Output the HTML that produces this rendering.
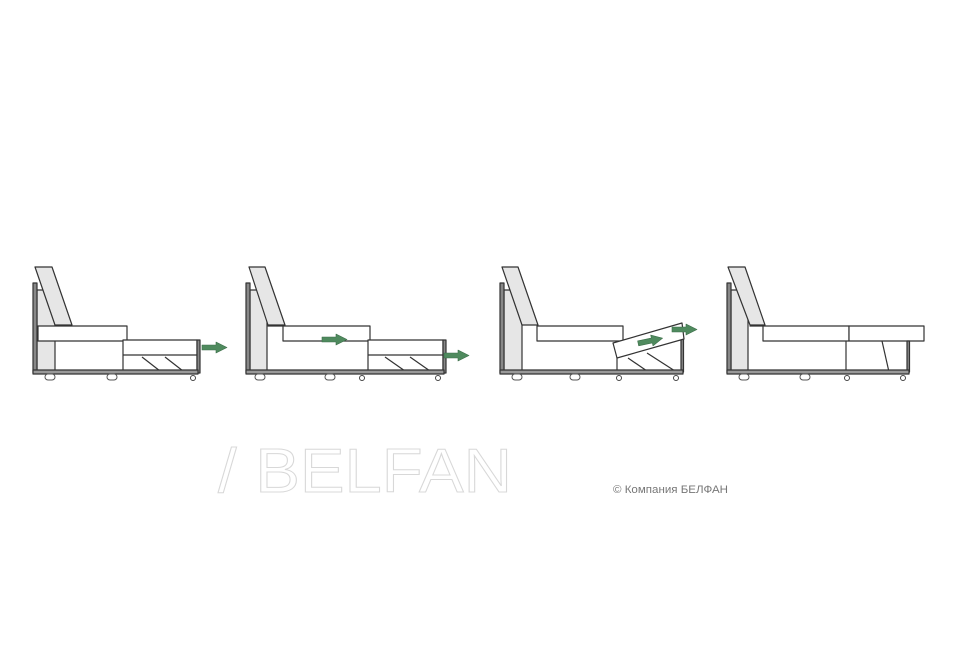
<!DOCTYPE html>
<html><head><meta charset="utf-8"><style>
html,body{margin:0;padding:0;background:#fff;}
svg{display:block;}
</style></head><body>
<svg width="961" height="648" viewBox="0 0 961 648" xmlns="http://www.w3.org/2000/svg">
<defs>
<g id="arr"><polygon points="0,3 14,3 14,0 25,5.5 14,11 14,8 0,8" fill="#4f8a5e" stroke="#3d6f4a" stroke-width="0.6"/></g>
<g id="foot"><rect x="-5" y="0" width="10" height="6" rx="3" fill="#fff" stroke="#555" stroke-width="1"/></g>
<g id="wheel"><circle cx="0" cy="0" r="2.5" fill="#fff" stroke="#444" stroke-width="1"/></g>
</defs>
<g stroke="#333" stroke-width="1.2" fill="#fff" stroke-linejoin="round">

<!-- Sofa 1 -->
<rect x="37" y="290" width="18" height="82" fill="#e6e6e6"/>
<rect x="33" y="283" width="4" height="90" fill="#888"/>
<polygon points="35,267 52,267 72,325 55,325" fill="#e6e6e6"/>
<rect x="38" y="326" width="89" height="15"/>
<rect x="123" y="340" width="74" height="32"/>
<line x1="123" y1="355" x2="197" y2="355"/>
<line x1="142" y1="357" x2="160" y2="371"/>
<line x1="165" y1="357" x2="183" y2="371"/>
<rect x="197" y="340" width="3" height="33" fill="#888"/>
<rect x="33" y="370" width="165" height="4" fill="#999"/>
<use href="#foot" x="50" y="374"/><use href="#foot" x="112" y="374"/>
<use href="#wheel" x="193" y="378"/>
<use href="#arr" x="202" y="342"/>

<!-- Sofa 2 -->
<rect x="250" y="290" width="17" height="82" fill="#e6e6e6"/>
<rect x="246" y="283" width="4" height="90" fill="#888"/>
<polygon points="249,267 265,267 285,325 268,325" fill="#e6e6e6"/>
<polygon points="268,326 370,326 370,341 283,341 283,326"/>
<rect x="368" y="340" width="75" height="32"/>
<line x1="368" y1="355" x2="443" y2="355"/>
<line x1="385" y1="357" x2="405" y2="371"/>
<line x1="410" y1="357" x2="430" y2="371"/>
<rect x="443" y="340" width="3" height="33" fill="#888"/>
<rect x="246" y="370" width="198" height="4" fill="#999"/>
<use href="#foot" x="260" y="374"/><use href="#foot" x="330" y="374"/>
<use href="#wheel" x="362" y="378"/><use href="#wheel" x="438" y="378"/>
<use href="#arr" x="322" y="334"/>
<use href="#arr" x="444" y="350"/>

<!-- Sofa 3 -->
<rect x="504" y="290" width="18" height="82" fill="#e6e6e6"/>
<rect x="500" y="283" width="4" height="90" fill="#888"/>
<polygon points="502,267 518,267 538,325 522,325" fill="#e6e6e6"/>
<rect x="537" y="326" width="86" height="15"/>
<line x1="617" y1="356" x2="617" y2="372"/>
<line x1="628" y1="358" x2="647" y2="371"/>
<line x1="647" y1="353" x2="675" y2="371"/>
<rect x="681" y="338" width="2.5" height="34" fill="#888"/>
<polygon points="613,343 682,323 684,339 617,358"/>
<rect x="500" y="370" width="183" height="4" fill="#999"/>
<use href="#foot" x="517" y="374"/><use href="#foot" x="575" y="374"/>
<use href="#wheel" x="619" y="378"/><use href="#wheel" x="676" y="378"/>
<g transform="translate(637,338) rotate(-12)"><use href="#arr" x="0" y="0"/></g>
<use href="#arr" x="672" y="324"/>

<!-- Sofa 4 -->
<rect x="731" y="290" width="17" height="82" fill="#e6e6e6"/>
<rect x="727" y="283" width="4" height="90" fill="#888"/>
<polygon points="728,267 745,267 765,325 750,325" fill="#e6e6e6"/>
<polygon points="750,326 849,326 849,341 763,341 763,326"/>
<rect x="849" y="326" width="75" height="15"/>
<line x1="846" y1="341" x2="846" y2="372"/>
<line x1="882" y1="341" x2="889" y2="372"/>
<rect x="907" y="341" width="2.5" height="31" fill="#888"/>
<rect x="727" y="370" width="182" height="4" fill="#999"/>
<use href="#foot" x="744" y="374"/><use href="#foot" x="805" y="374"/>
<use href="#wheel" x="847" y="378"/><use href="#wheel" x="903" y="378"/>
</g>

<text x="218" y="492" font-family="Liberation Sans, sans-serif" font-size="62" fill="none" stroke="#d8d8d8" stroke-width="1" textLength="294" lengthAdjust="spacingAndGlyphs">/ BELFAN</text>
<text x="613" y="493" font-family="Liberation Sans, 'Noto Sans CJK SC', sans-serif" font-size="11" fill="#777" textLength="115" lengthAdjust="spacingAndGlyphs">© Компания БЕЛФАН</text>
</svg>
</body></html>
